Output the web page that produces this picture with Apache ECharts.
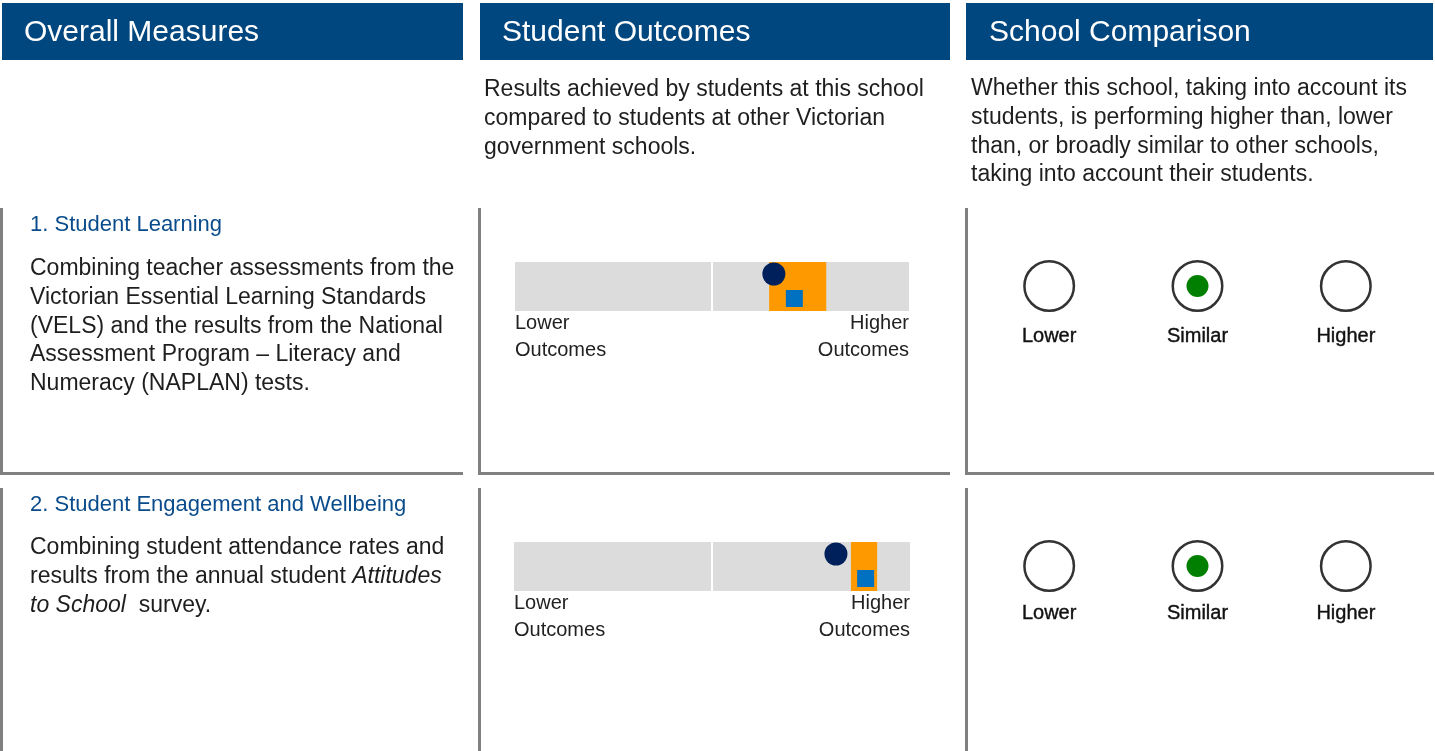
<!DOCTYPE html>
<html><head><meta charset="utf-8">
<script src="https://cdn.jsdelivr.net/npm/echarts@6/dist/echarts.min.js"></script>
<style>html,body{margin:0;padding:0;background:#fff}#c{width:1435px;height:751px}</style>
</head><body><div id="c"></div>
<script>
// ---------- data ----------
const headers = ['Overall Measures', 'Student Outcomes', 'School Comparison'];
const measureTitles = ['1. Student Learning', '2. Student Engagement and Wellbeing'];
const outcomeTickLabels = ['Lower\nOutcomes', 'Higher\nOutcomes'];
const outcomeBands = [[0, 50], [50, 100]];
const rangeLow = [64.5, 85.1];
const rangeHigh = [79.0, 91.7];
const circleValues = [65.7, 81.3];
const squareValues = [70.9, 88.8];
const comparisonCategories = ['Lower', 'Similar', 'Higher'];
const comparisonResult = ['Similar', 'Similar'];

const FONT = '"Liberation Sans", Arial, Helvetica, sans-serif';
const chart = echarts.init(document.getElementById('c'), null, {renderer: 'canvas'});

// ---------- layout ----------
const barGrids = [
  {left: 515, top: 262, width: 394, height: 49},
  {left: 514, top: 542, width: 396, height: 49}
];
const cmpGrids = [
  {left: 975, top: 260, width: 445, height: 52, margin: 14},
  {left: 975, top: 540, width: 445, height: 52, margin: 11}
];

const grid = [], xAxis = [], yAxis = [], series = [];
function rectRender(fill) {
  return function (params, api) {
    const cs = params.coordSys;
    const x0 = api.coord([api.value(0), 0])[0];
    const x1 = api.coord([api.value(1), 0])[0];
    return {type: 'rect', shape: {x: x0, y: cs.y, width: x1 - x0, height: cs.height}, style: {fill: fill}};
  };
}
barGrids.forEach((g, i) => {
  const gi = grid.length;
  grid.push({left: g.left, top: g.top, width: g.width, height: g.height, containLabel: false});
  xAxis.push({
    type: 'value', gridIndex: gi, min: 0, max: 100, interval: 100,
    axisLine: {show: false}, axisTick: {show: false}, splitLine: {show: false},
    axisLabel: {
      formatter: (v, idx) => outcomeTickLabels[idx],
      alignMinLabel: 'left', alignMaxLabel: 'right',
      fontFamily: FONT, fontSize: 20, lineHeight: 27, color: '#222', margin: -1
    }
  });
  yAxis.push({type: 'category', gridIndex: gi, data: ['r'], show: false});
  series.push({
    type: 'custom', xAxisIndex: gi, yAxisIndex: gi, z: 1, silent: true,
    renderItem: rectRender('#dcdcdc'),
    data: outcomeBands, encode: {x: [0, 1]}
  });
  series.push({
    type: 'custom', xAxisIndex: gi, yAxisIndex: gi, z: 2, silent: true,
    renderItem: rectRender('#ff9900'),
    data: [[rangeLow[i], rangeHigh[i]]], encode: {x: [0, 1]}
  });
  series.push({
    type: 'scatter', xAxisIndex: gi, yAxisIndex: gi, z: 3, silent: true,
    symbol: 'circle', symbolSize: 23, symbolOffset: [0, -12.5],
    itemStyle: {color: '#00205b', opacity: 1},
    data: [[circleValues[i], 0]],
    markLine: {
      silent: true, symbol: 'none', label: {show: false},
      lineStyle: {color: '#ffffff', width: 2, type: 'solid', opacity: 1},
      emphasis: {disabled: true},
      data: [{xAxis: outcomeBands[0][1]}]
    }
  });
  series.push({
    type: 'scatter', xAxisIndex: gi, yAxisIndex: gi, z: 4, silent: true,
    symbol: 'rect', symbolSize: 17, symbolOffset: [0, 12],
    itemStyle: {color: '#0070c0', opacity: 1},
    data: [[squareValues[i], 0]]
  });
});
cmpGrids.forEach((g, i) => {
  const gi = grid.length;
  grid.push({left: g.left, top: g.top, width: g.width, height: g.height});
  xAxis.push({
    type: 'category', gridIndex: gi, data: comparisonCategories,
    axisLine: {show: false}, axisTick: {show: false}, splitLine: {show: false},
    axisLabel: {fontFamily: FONT, fontSize: 20, color: '#111', margin: g.margin,
      textBorderColor: '#111', textBorderWidth: 0.4}
  });
  yAxis.push({type: 'category', gridIndex: gi, data: ['r'], show: false});
  series.push({
    type: 'scatter', xAxisIndex: gi, yAxisIndex: gi, z: 2, silent: true,
    symbol: 'circle', symbolSize: 49.5,
    itemStyle: {color: '#ffffff', borderColor: '#333333', borderWidth: 2.5, opacity: 1},
    data: comparisonCategories.map(c => [c, 0])
  });
  series.push({
    type: 'scatter', xAxisIndex: gi, yAxisIndex: gi, z: 3, silent: true,
    symbol: 'circle', symbolSize: 22,
    itemStyle: {color: '#007f00', opacity: 1},
    data: [[comparisonResult[i], 0]]
  });
});

// ---------- static page elements ----------
const graphic = [];
const headerBoxes = [[2, 461, 24], [480, 470, 502], [966, 467, 989]];
headerBoxes.forEach((b, i) => {
  graphic.push({type: 'rect', shape: {x: b[0], y: 3, width: b[1], height: 57}, style: {fill: '#00467f'}, silent: true});
  graphic.push({type: 'text', x: b[2], y: 33, silent: true,
    style: {text: headers[i], fill: '#ffffff', font: '30px ' + FONT, textVerticalAlign: 'middle'}});
});
const GREY = '#808080';
function line(x1, y1, x2, y2) {
  graphic.push({type: 'line', silent: true, shape: {x1, y1, x2, y2}, style: {stroke: GREY, lineWidth: 3}});
}
[[208, 475], [488, 760]].forEach((r, ri) => {
  [[1.5, 0, 463], [479.5, 478, 950], [966.5, 965, 1434]].forEach(c => {
    line(c[0], r[0], c[0], r[1]);
    if (ri === 0) line(c[1], 473.5, c[2], 473.5);
  });
});
function text(x, y, str, size, color, lh, rich) {
  const st = {text: str, fill: color, font: size + 'px ' + FONT, lineHeight: lh, textVerticalAlign: 'top'};
  if (rich) st.rich = rich;
  graphic.push({type: 'text', x: x, y: y, silent: true, style: st});
}
const BODY = '#1e1e1e';
const DY = 2;
text(484, 88 - 14.3 + DY, 'Results achieved by students at this school\ncompared to students at other Victorian\ngovernment schools.', 23, BODY, 28.6);
text(971, 87 - 14.3 + DY, 'Whether this school, taking into account its\nstudents, is performing higher than, lower\nthan, or broadly similar to other schools,\ntaking into account their students.', 23, BODY, 28.6);
text(30, 223 - 14 + DY, measureTitles[0], 22, '#0a4c8b', 28);
text(30, 267 - 14.3 + DY, 'Combining teacher assessments from the\nVictorian Essential Learning Standards\n(VELS) and the results from the National\nAssessment Program \u2013 Literacy and\nNumeracy (NAPLAN) tests.', 23, BODY, 28.6);
text(30, 503 - 14 + DY, measureTitles[1], 22, '#0a4c8b', 28);
text(30, 546 - 14.3 + DY, 'Combining student attendance rates and\nresults from the annual student {i|Attitudes}\n{i|to School}  survey.', 23, BODY, 28.6,
  {i: {font: 'italic 23px ' + FONT, fill: BODY, lineHeight: 28.6}});

chart.setOption({
  animation: false,
  backgroundColor: '#ffffff',
  grid, xAxis, yAxis, series, graphic
});
</script></body></html>
